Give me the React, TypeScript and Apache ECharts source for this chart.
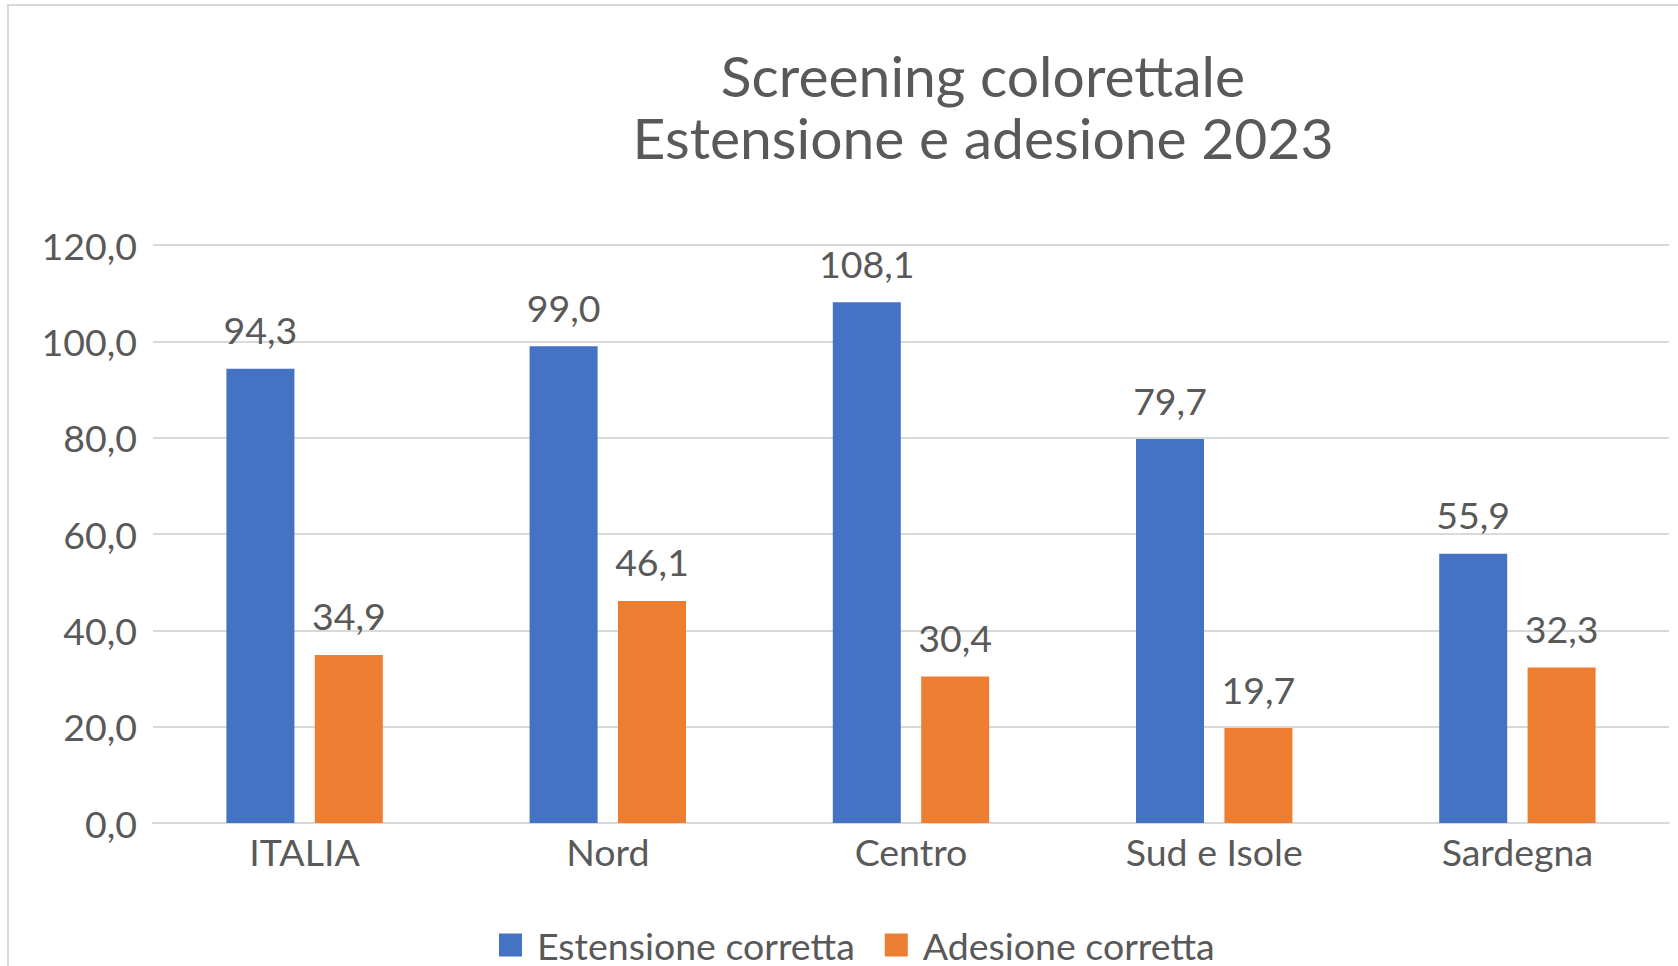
import React, { useEffect, useRef } from "react";
import * as echarts from "echarts";

const categories = ["ITALIA", "Nord", "Centro", "Sud e Isole", "Sardegna"];
const estensione = [94.3, 99.0, 108.1, 79.7, 55.9];
const adesione = [34.9, 46.1, 30.4, 19.7, 32.3];
const seriesNames = ["Estensione corretta", "Adesione corretta"];
const titleLines = ["Screening colorettale", "Estensione e adesione 2023"];

const FONT = "Lato";
const TEXT = "#595959";
const FS = 37.5;
const fmt = (v: number) => v.toFixed(1).replace(".", ",");

export default function App() {
  const ref = useRef<HTMLDivElement>(null);
  useEffect(() => {
    if (!ref.current) return;
    const chart = echarts.init(ref.current, undefined, { renderer: "svg" });
    const labelStyle = {
      show: true,
      position: "top" as const,
      distance: 20,
      color: TEXT,
      fontFamily: FONT,
      fontSize: FS,
      formatter: (p: any) => fmt(p.value),
    };
    chart.setOption({
      animation: false,
      backgroundColor: "#ffffff",
      textStyle: { fontFamily: FONT },
      graphic: [
        {
          type: "rect",
          shape: { x: 8, y: 5, width: 1700, height: 1000 },
          style: { fill: "none", stroke: "#D9D9D9", lineWidth: 2 },
          silent: true,
        },
        {
          type: "text",
          x: 983,
          y: 75,
          style: {
            text: titleLines[0],
            fill: TEXT,
            font: `57px ${FONT}`,
            textAlign: "center",
            textVerticalAlign: "middle",
          },
        },
        {
          type: "text",
          x: 983,
          y: 137,
          style: {
            text: titleLines[1],
            fill: TEXT,
            font: `57px ${FONT}`,
            textAlign: "center",
            textVerticalAlign: "middle",
          },
        },
      ],
      legend: {
        data: seriesNames,
        left: 494,
        top: 921,
        itemWidth: 23,
        itemHeight: 23,
        itemGap: 30,
        icon: "rect",
        textStyle: {
          color: TEXT,
          fontFamily: FONT,
          fontSize: FS,
          padding: [0, 0, 0, 10],
        },
      },
      grid: { left: 153, right: 9, top: 245, bottom: 143, containLabel: false },
      xAxis: {
        type: "category",
        data: categories,
        axisTick: { show: false },
        axisLine: { show: true, lineStyle: { color: "#D9D9D9", width: 2 } },
        axisLabel: {
          color: TEXT,
          fontFamily: FONT,
          fontSize: FS,
          margin: 9,
        },
      },
      yAxis: {
        type: "value",
        min: 0,
        max: 120,
        interval: 20,
        axisLine: { show: false },
        axisTick: { show: false },
        splitLine: { lineStyle: { color: "#D9D9D9", width: 2 } },
        axisLabel: {
          color: TEXT,
          fontFamily: FONT,
          fontSize: FS,
          margin: 16,
          formatter: (v: number) => fmt(v),
        },
      },
      series: [
        {
          name: seriesNames[0],
          type: "bar",
          data: estensione,
          barWidth: 68,
          barGap: "30%",
          itemStyle: { color: "#4472C4" },
          label: labelStyle,
        },
        {
          name: seriesNames[1],
          type: "bar",
          data: adesione,
          barWidth: 68,
          barGap: "30%",
          itemStyle: { color: "#ED7D31" },
          label: labelStyle,
        },
      ],
    });
    return () => chart.dispose();
  }, []);
  return (
    <div
      ref={ref}
      style={{ position: "absolute", left: 0, top: 0, width: 1678, height: 966 }}
    />
  );
}
